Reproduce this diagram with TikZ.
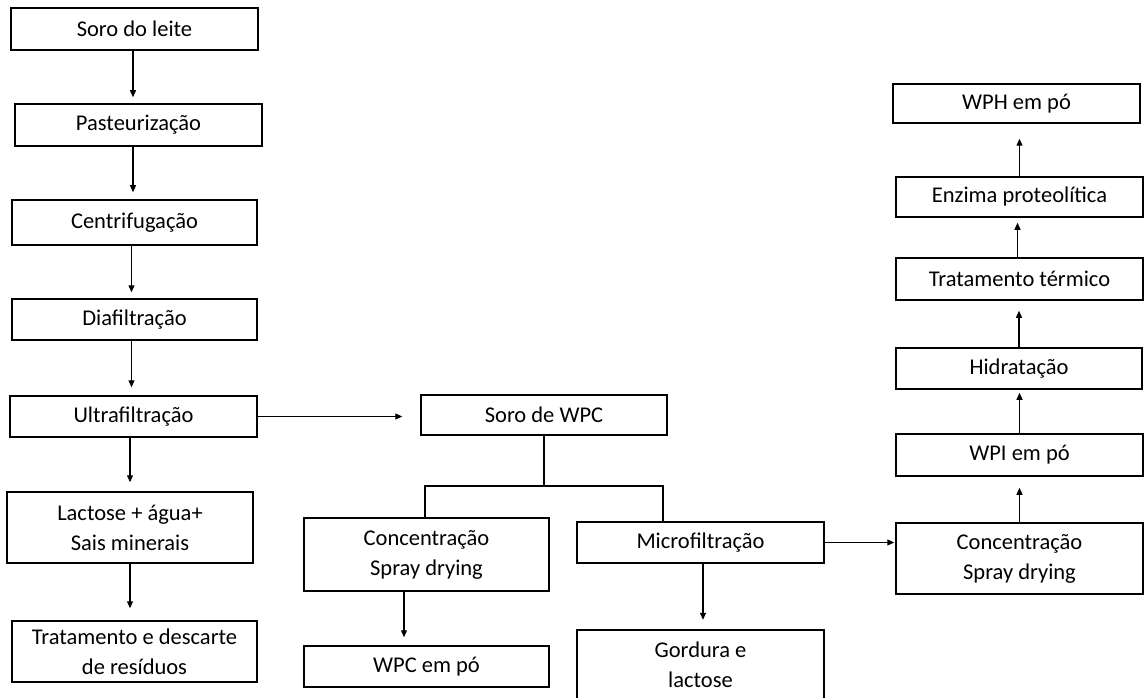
\documentclass[tikz,border=0pt]{standalone}
\usepackage{fontspec}
\setmainfont{Carlito}
\usetikzlibrary{arrows.meta}
\begin{document}
\begin{tikzpicture}[x=1pt,y=-1pt,
  box/.style={draw=black,line width=1.5pt,rectangle,inner sep=0pt,align=center,
    font=\fontsize{22.5}{30}\selectfont,minimum width=246pt,minimum height=41pt},
  plain/.style={inner sep=0pt,align=center,font=\fontsize{22.5}{30}\selectfont,
    minimum width=247pt},
  arr/.style={line width=1.2pt,-{Triangle[length=7pt,width=6pt]}},
  link/.style={line width=1.2pt}]
\useasboundingbox[fill=white] (0,0) rectangle (1144,698);
% left column
\node[box,minimum width=247pt,minimum height=42pt] (leite) at (134.5,29) {Soro do leite};
\node[box,minimum width=247pt,minimum height=42pt] (past) at (138.5,125) {Pasteurização};
\node[box,minimum width=245pt,minimum height=45pt] (centr) at (134.5,222.5) {Centrifugação};
\node[box,minimum width=245pt] (diaf) at (134.5,319.5) {Diafiltração};
\node[box,minimum width=247pt] (ultra) at (133.5,416.5) {Ultrafiltração};
\node[box,minimum width=246pt,minimum height=71pt] (lact) at (130,527.5) {Lactose + água+\\Sais minerais};
\node[box,minimum width=245pt,minimum height=61pt] (trat) at (134.5,651.5) {Tratamento e descarte\\de resíduos};
% middle
\node[box,minimum height=40pt] (soro) at (544,415) {Soro de WPC};
\node[box,minimum width=245pt,minimum height=73pt] (concL) at (426.5,554.5) {Concentração\\Spray drying};
\node[box,minimum width=245pt] (wpc) at (426.5,666.5) {WPC em pó};
\node[box,minimum width=247pt] (micro) at (700.5,542.5) {Microfiltração};
\node[plain,minimum height=70pt] (gord) at (700.5,665) {Gordura e\\lactose};
\draw[line width=1.5pt] (gord.south west) -- (gord.north west) -- (gord.north east) -- (gord.south east);
% right column
\node[box,minimum width=247pt,minimum height=71pt] (concR) at (1019.5,558.5) {Concentração\\Spray drying};
\node[box,minimum width=247pt,minimum height=42pt] (wpi) at (1019.5,455) {WPI em pó};
\node[box] (hidr) at (1019,368.5) {Hidratação};
\node[box,minimum width=247pt,minimum height=42pt] (term) at (1019.5,279) {Tratamento térmico};
\node[box,minimum width=247pt,minimum height=40pt] (enz) at (1019.5,197) {Enzima proteolítica};
\node[box,minimum width=247pt,minimum height=39pt] (wph) at (1016.5,103.5) {WPH em pó};
% left arrows
\draw[arr,shorten >=6pt] ([xshift=-1.5pt]leite.south) -- ([xshift=-1.5pt]leite.south |- past.north);
\draw[arr,shorten >=7pt] ([xshift=-1.5pt]centr.north |- past.south) -- ([xshift=-1.5pt]centr.north);
\draw[arr,shorten >=6pt] ([xshift=-3pt]centr.south) -- ([xshift=-3pt]centr.south |- diaf.north);
\draw[arr,shorten >=8pt] ([xshift=-3pt]diaf.south) -- ([xshift=-3pt]diaf.south |- ultra.north);
\draw[arr,shorten >=9pt] (lact.north |- ultra.south) -- (lact.north);
\draw[arr,shorten >=12pt] (lact.south) -- (lact.south |- trat.north);
\draw[arr,shorten >=18pt] (ultra.east) -- (ultra.east -| soro.west);
% middle connectors
\coordinate (j) at (544,486);
\draw[link] (soro.south) -- (j);
\draw[link] ([xshift=-1.5pt]concL.north) |- (j) -| ([xshift=-37.5pt]micro.north);
\draw[arr,shorten >=8pt] ([xshift=-22.5pt]concL.south) -- ([xshift=-22.5pt]concL.south |- wpc.north);
\draw[arr,shorten >=10pt] ([xshift=2.5pt]micro.south) -- ([xshift=2.5pt]micro.south |- gord.north);
\draw[arr,shorten >=1pt] (micro.east) -- (micro.east -| concR.west);
% right arrows (upwards)
\draw[arr,shorten >=11pt] (concR.north) -- (concR.north |- wpi.south);
\draw[arr,shorten >=3pt] (wpi.north) -- (wpi.north |- hidr.south);
\draw[arr,shorten >=10pt] (hidr.north) -- (hidr.north |- term.south);
\draw[arr,shorten >=5pt] ([xshift=-2pt]term.north) -- ([xshift=-2pt]term.north |- enz.south);
\draw[arr,shorten >=15pt] (enz.north) -- (enz.north |- wph.south);
\end{tikzpicture}
\end{document}
